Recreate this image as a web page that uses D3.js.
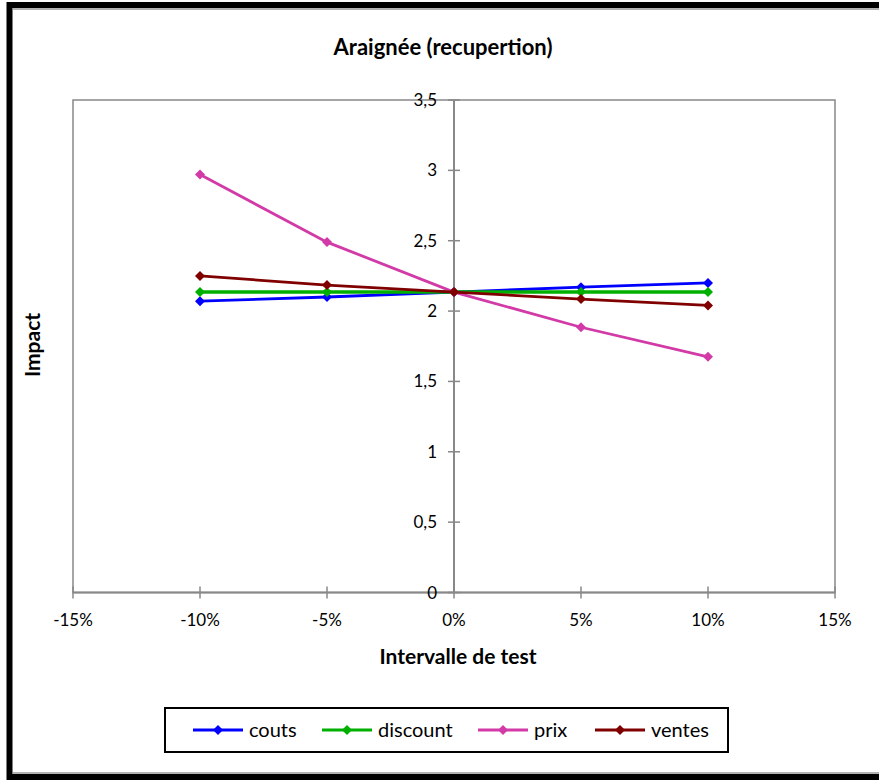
<!DOCTYPE html>
<html>
<head>
<meta charset="utf-8">
<script src="https://cdn.jsdelivr.net/npm/d3@7"></script>
<style>
  body { margin: 0; background: #fff; }
  text { font-family: Lato, "Open Sans", sans-serif; fill: #000; }
</style>
</head>
<body>
<div id="viz"></div>
<script>
// test interval (percent) and impact per variable
const intervals = [-0.10, -0.05, 0, 0.05, 0.10];
const couts = [2.07, 2.10, 2.135, 2.17, 2.20];
const discount = [2.135, 2.135, 2.135, 2.135, 2.135];
const prix = [2.97, 2.49, 2.135, 1.885, 1.675];
const ventes = [2.25, 2.185, 2.135, 2.085, 2.04];

const seriesNames = ["couts", "discount", "prix", "ventes"];
const seriesColors = ["#0000ff", "#00b000", "#d23aa8", "#800000"];
const xTicks = [-0.15, -0.10, -0.05, 0, 0.05, 0.10, 0.15];
const yTicks = [0, 0.5, 1, 1.5, 2, 2.5, 3, 3.5];

const width = 879, height = 780;
const svg = d3.select("#viz").append("svg")
  .attr("width", width).attr("height", height);

// outer frame
svg.append("rect")
  .attr("x", 9.5).attr("y", 5)
  .attr("width", 900).attr("height", 772)
  .attr("fill", "none").attr("stroke", "#000").attr("stroke-width", 6);
svg.append("line").attr("x1", 13).attr("x2", 879).attr("y1", 9).attr("y2", 9)
  .attr("stroke", "#999").attr("stroke-width", 1.5);
svg.append("line").attr("x1", 13).attr("x2", 879).attr("y1", 773).attr("y2", 773)
  .attr("stroke", "#999").attr("stroke-width", 1.5);

const x = d3.scaleLinear().domain([-0.15, 0.15]).range([73, 835]);
const y = d3.scaleLinear().domain([0, 3.5]).range([592.5, 100]);
const fmt = (v) => String(v).replace(".", ",");

// plot area frame
svg.append("rect")
  .attr("x", x(-0.15)).attr("y", y(3.5))
  .attr("width", x(0.15) - x(-0.15)).attr("height", y(0) - y(3.5))
  .attr("fill", "none").attr("stroke", "#888").attr("stroke-width", 1.5);

// x axis
const gx = svg.append("g").attr("transform", `translate(0,${y(0)})`);
gx.append("line").attr("x1", x(-0.15)).attr("x2", x(0.15))
  .attr("stroke", "#888").attr("stroke-width", 2);
gx.selectAll(".xt").data(xTicks).join("line").attr("class", "xt")
  .attr("x1", (d) => x(d)).attr("x2", (d) => x(d))
  .attr("y1", -6).attr("y2", 6)
  .attr("stroke", "#888").attr("stroke-width", 1.5);
gx.selectAll(".xl").data(xTicks).join("text").attr("class", "xl")
  .attr("x", (d) => x(d)).attr("y", 33)
  .attr("text-anchor", "middle").attr("font-size", 17)
  .text((d) => Math.round(d * 100) + "%");

// y axis through 0%
const gy = svg.append("g").attr("transform", `translate(${x(0)},0)`);
gy.append("line").attr("y1", y(0)).attr("y2", y(3.5))
  .attr("stroke", "#888").attr("stroke-width", 2);
gy.selectAll(".yt").data(yTicks).join("line").attr("class", "yt")
  .attr("y1", (d) => y(d)).attr("y2", (d) => y(d))
  .attr("x1", -6).attr("x2", 6)
  .attr("stroke", "#888").attr("stroke-width", 1.5);
gy.selectAll(".yl").data(yTicks).join("text").attr("class", "yl")
  .attr("x", -17).attr("y", (d) => y(d) + 6)
  .attr("text-anchor", "end").attr("font-size", 17)
  .text((d) => fmt(d));

// titles
svg.append("text").attr("x", 443).attr("y", 55)
  .attr("text-anchor", "middle").attr("font-size", 22).attr("font-weight", "bold")
  .text("Araignée (recupertion)");
svg.append("text").attr("x", 458).attr("y", 664)
  .attr("text-anchor", "middle").attr("font-size", 21).attr("font-weight", "bold")
  .text("Intervalle de test");
svg.append("text").attr("transform", "translate(40,345) rotate(-90)")
  .attr("text-anchor", "middle").attr("font-size", 21).attr("font-weight", "bold")
  .text("Impact");

// series
const allSeries = [couts, discount, prix, ventes];
const line = d3.line().x((d, i) => x(intervals[i])).y((d) => y(d));
const diamond = d3.symbol().type(d3.symbolSquare).size(50);

allSeries.forEach((vals, k) => {
  const g = svg.append("g");
  g.append("path").datum(vals).attr("d", line)
    .attr("fill", "none").attr("stroke", seriesColors[k])
    .attr("stroke-width", k === 1 ? 3.5 : 2.8);
  g.selectAll("path.m").data(vals).join("path").attr("class", "m")
    .attr("d", diamond)
    .attr("transform", (d, i) => `translate(${x(intervals[i])},${y(d)}) rotate(45)`)
    .attr("fill", seriesColors[k]);
});

// legend
const lg = svg.append("g");
lg.append("rect").attr("x", 165).attr("y", 708).attr("width", 563).attr("height", 44)
  .attr("fill", "#fff").attr("stroke", "#000").attr("stroke-width", 2);
const legX = [193, 322, 478, 595];
seriesNames.forEach((name, k) => {
  lg.append("line").attr("x1", legX[k]).attr("x2", legX[k] + 50)
    .attr("y1", 730).attr("y2", 730)
    .attr("stroke", seriesColors[k]).attr("stroke-width", 2.8);
  lg.append("path").attr("d", diamond)
    .attr("transform", `translate(${legX[k] + 25},730) rotate(45)`)
    .attr("fill", seriesColors[k]);
  lg.append("text").attr("x", legX[k] + 56).attr("y", 737)
    .attr("font-size", 20).text(name);
});
</script>
</body>
</html>
